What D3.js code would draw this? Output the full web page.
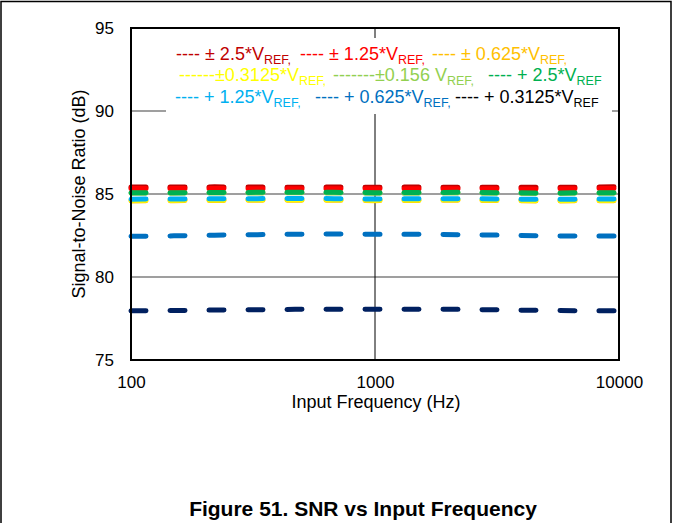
<!DOCTYPE html>
<html>
<head>
<meta charset="utf-8">
<script src="https://cdn.jsdelivr.net/npm/d3@7"></script>
<style>
  html, body { margin: 0; padding: 0; background: #fff; }
  svg { display: block; }
  text { font-family: Arial, "Liberation Sans", sans-serif; }
</style>
</head>
<body>
<svg id="chart" width="674" height="523"></svg>
<script>
// ---------- DATA ----------
const frequencies = [100, 150, 220, 330, 470, 680, 1000, 1500, 2200, 3300, 4700, 6800, 10000];
const seriesNames = ["±2.5*VREF", "±1.25*VREF", "±0.625*VREF", "±0.3125*VREF", "±0.156 VREF",
                     "+2.5*VREF", "+1.25*VREF", "+0.625*VREF", "+0.3125*VREF"];
const snrPm2p5    = [85.42, 85.42, 85.43, 85.42, 85.41, 85.42, 85.41, 85.42, 85.41, 85.40, 85.40, 85.41, 85.44];
const snrPm1p25   = [85.33, 85.33, 85.33, 85.32, 85.32, 85.32, 85.31, 85.32, 85.32, 85.31, 85.30, 85.32, 85.34];
const snrPm0p625  = [84.58, 84.60, 84.61, 84.62, 84.63, 84.62, 84.60, 84.61, 84.62, 84.60, 84.58, 84.59, 84.60];
const snrPm0p3125 = [84.62, 84.63, 84.64, 84.65, 84.66, 84.65, 84.63, 84.64, 84.65, 84.63, 84.61, 84.62, 84.63];
const snrPm0p156  = [85.04, 85.05, 85.06, 85.06, 85.07, 85.06, 85.05, 85.05, 85.06, 85.04, 85.03, 85.04, 85.05];
const snrP2p5     = [85.07, 85.08, 85.09, 85.10, 85.11, 85.10, 85.08, 85.09, 85.10, 85.08, 85.06, 85.07, 85.08];
const snrP1p25    = [84.69, 84.70, 84.71, 84.72, 84.73, 84.72, 84.70, 84.71, 84.72, 84.70, 84.68, 84.69, 84.70];
const snrP0p625   = [82.45, 82.48, 82.52, 82.55, 82.58, 82.59, 82.58, 82.58, 82.55, 82.52, 82.48, 82.47, 82.47];
const snrP0p3125  = [77.96, 77.98, 78.01, 78.03, 78.05, 78.06, 78.05, 78.06, 78.05, 78.02, 77.99, 77.97, 77.97];
const seriesValues = [snrPm2p5, snrPm1p25, snrPm0p625, snrPm0p3125, snrPm0p156, snrP2p5, snrP1p25, snrP0p625, snrP0p3125];
const seriesColors = ["#C00000", "#FF0000", "#FFC000", "#FFFF00", "#92D050", "#00B050", "#00B0F0", "#0070C0", "#002060"];
const xTicks = [100, 1000, 10000];
const yTicks = [75, 80, 85, 90, 95];
const yGrid = [80, 85, 90];
const xGrid = [1000];

// legend items: [lead dashes, main text, subscript, color]
const legendRows = [
  [["---- ", "± 2.5*V", "REF,", "#C00000"], ["---- ", "± 1.25*V", "REF,", "#FF0000"], ["---- ", "± 0.625*V", "REF,", "#FFC000"]],
  [["------", "±0.3125*V", "REF,", "#FFFF00"], ["-------", "±0.156 V", "REF,", "#92D050"], ["---- ", "+ 2.5*V", "REF", "#00B050"]],
  [["---- ", "+ 1.25*V", "REF,", "#00B0F0"], ["---- ", "+ 0.625*V", "REF,", "#0070C0"], ["---- ", "+ 0.3125*V", "REF", "#000000"]]
];

// ---------- LAYOUT ----------
const svg = d3.select("#chart");
const plot = { left: 131, right: 619, top: 28, bottom: 360 };

const x = d3.scaleLog().domain([100, 10000]).range([plot.left, plot.right]);
const y = d3.scaleLinear().domain([75, 95]).range([plot.bottom, plot.top]);

// outer page border
svg.append("path")
  .attr("d", `M1,523 L1,1.5 L671,1.5 L671,523`)
  .attr("fill", "none").attr("stroke", "#000").attr("stroke-width", 1.5);

// gridlines
svg.append("g").selectAll("line").data(yGrid).join("line")
  .attr("x1", plot.left).attr("x2", plot.right)
  .attr("y1", d => y(d)).attr("y2", d => y(d))
  .attr("stroke", "#7f7f7f").attr("stroke-width", 1.5);
svg.append("g").selectAll("line").data(xGrid).join("line")
  .attr("x1", d => x(d)).attr("x2", d => x(d))
  .attr("y1", plot.top).attr("y2", plot.bottom)
  .attr("stroke", "#000").attr("stroke-width", 1);

// series lines
const line = d3.line().x((d, i) => x(frequencies[i])).y(d => y(d));
svg.append("g").selectAll("path").data(seriesValues).join("path")
  .attr("d", d => line(d))
  .attr("fill", "none")
  .attr("stroke", (d, i) => seriesColors[i])
  .attr("stroke-width", 5)
  .attr("stroke-linecap", "round")
  .attr("stroke-dasharray", "15,24");

// legend background
svg.append("rect").attr("x", 166).attr("y", 38).attr("width", 446).attr("height", 76).attr("fill", "#fff");

// legend text
const legendX = [[176, 300, 432], [179, 333, 488], [175, 315, 455]];
const legendY = [60, 81, 103];
legendRows.forEach((row, r) => {
  row.forEach((item, c) => {
    const t = svg.append("text")
      .attr("x", legendX[r][c]).attr("y", legendY[r])
      .attr("font-size", 18).attr("fill", item[3]);
    t.append("tspan").text(item[0]);
    t.append("tspan").text(item[1]);
    t.append("tspan").attr("font-size", 12.5).attr("dy", 3.5).text(item[2]);
  });
});

// frame
svg.append("rect")
  .attr("x", plot.left).attr("y", plot.top)
  .attr("width", plot.right - plot.left).attr("height", plot.bottom - plot.top)
  .attr("fill", "none").attr("stroke", "#000").attr("stroke-width", 2);

// axes
const xAxis = d3.axisBottom(x).tickValues(xTicks).tickFormat(d3.format("d")).tickSize(0).tickPadding(16);
const gx = svg.append("g").attr("transform", `translate(0,${plot.bottom})`).call(xAxis);
gx.select(".domain").remove();
gx.selectAll("text").attr("font-size", 17).attr("fill", "#000").attr("font-family", "Arial, 'Liberation Sans', sans-serif");

const yAxis = d3.axisLeft(y).tickValues(yTicks).tickFormat(d3.format("d")).tickSize(0).tickPadding(17);
const gy = svg.append("g").attr("transform", `translate(${plot.left},0)`).call(yAxis);
gy.select(".domain").remove();
gy.selectAll("text").attr("font-size", 17).attr("fill", "#000").attr("font-family", "Arial, 'Liberation Sans', sans-serif");

// axis titles
svg.append("text").attr("x", 376).attr("y", 408).attr("text-anchor", "middle")
  .attr("font-size", 18).text("Input Frequency (Hz)");
svg.append("text").attr("transform", "translate(85,194) rotate(-90)").attr("text-anchor", "middle")
  .attr("font-size", 18).text("Signal-to-Noise Ratio (dB)");

// figure caption
svg.append("text").attr("x", 363).attr("y", 516).attr("text-anchor", "middle")
  .attr("font-size", 21).attr("font-weight", "bold")
  .style("font-family", "'Liberation Sans Narrow', 'Arial Narrow', Arial, sans-serif")
  .text("Figure 51. SNR vs Input Frequency");
</script>
</body>
</html>
